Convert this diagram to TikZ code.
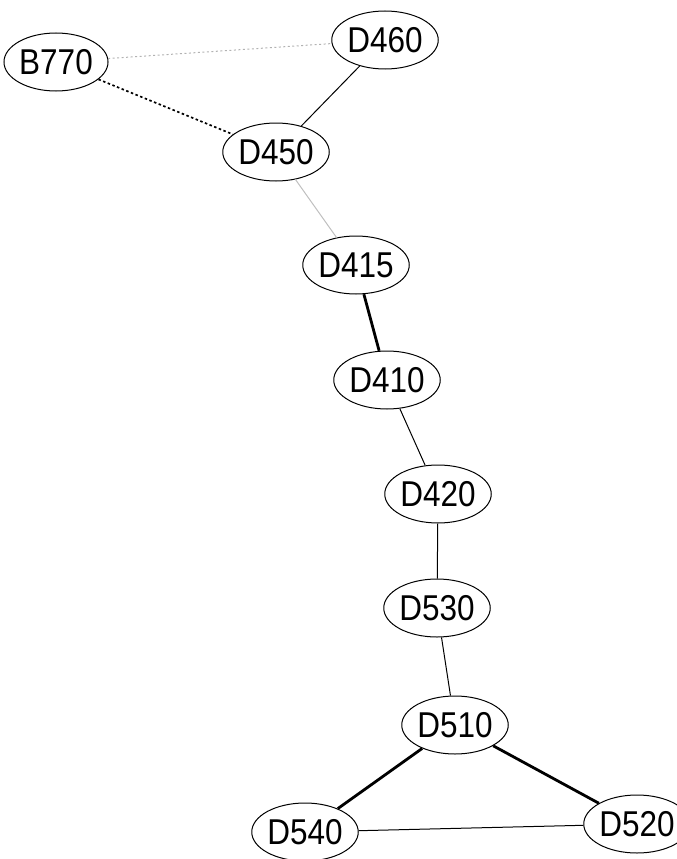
\documentclass[tikz,border=0pt]{standalone}
\usepackage{fontspec}
\setmainfont{Liberation Sans}
\usetikzlibrary{shapes.geometric}
\newcommand{\vlabel}[1]{\scalebox{1}[1.14]{#1}}
\begin{document}
\begin{tikzpicture}[x=1pt,y=-1pt,
  vert/.style={ellipse,draw=black,line width=1pt,minimum width=90pt,minimum height=58pt,inner sep=0pt,font=\fontsize{31.5}{31.5}\selectfont},
  thinedge/.style={line width=1pt,black},
  thickedge/.style={line width=2.8pt,black},
  grayedge/.style={line width=1pt,black!25},
  graydot/.style={line width=1pt,black!30,dash pattern=on 2pt off 2.5pt},
  blackdot/.style={line width=1.7pt,black,dash pattern=on 2.5pt off 2.5pt}]
\useasboundingbox (0,0) rectangle (677,859);
\node[vert] (B770) at (56,62) {\vlabel{B770}};
\node[vert] (D460) at (385,40) {\vlabel{D460}};
\node[vert] (D450) at (276,152) {\vlabel{D450}};
\node[vert] (D415) at (356,265) {\vlabel{D415}};
\node[vert] (D410) at (387,380) {\vlabel{D410}};
\node[vert] (D420) at (438,494) {\vlabel{D420}};
\node[vert] (D530) at (437,608) {\vlabel{D530}};
\node[vert] (D510) at (455,725) {\vlabel{D510}};
\node[vert] (D540) at (305,832) {\vlabel{D540}};
\node[vert] (D520) at (637,824) {\vlabel{D520}};
\draw[graydot] (B770) -- (D460);
\draw[blackdot] (B770) -- (D450);
\draw[thinedge] (D460) -- (D450);
\draw[grayedge] (D450) -- (D415);
\draw[thickedge] (D415) -- (D410);
\draw[thinedge] (D410) -- (D420);
\draw[thinedge] (D420) -- (D530);
\draw[thinedge] (D530) -- (D510);
\draw[thickedge] (D510) -- (D540);
\draw[thickedge] (D510) -- (D520);
\draw[thinedge] (D540) -- (D520);
\end{tikzpicture}
\end{document}
